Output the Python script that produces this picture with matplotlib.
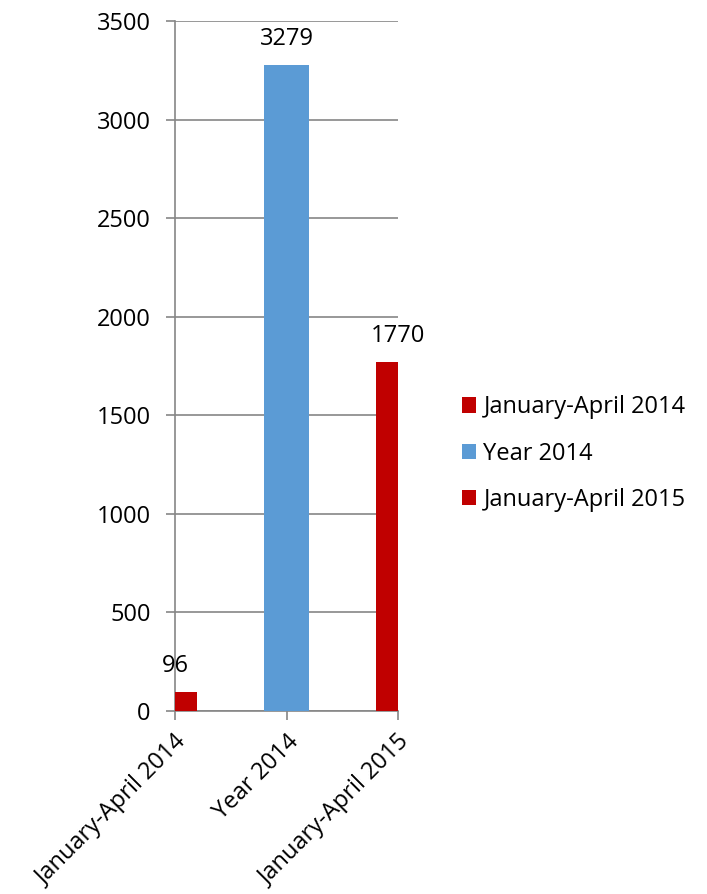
import numpy as np
import matplotlib.pyplot as plt
from matplotlib.patches import Patch

categories = ["January-April 2014", "Year 2014", "January-April 2015"]
values = [96, 3279, 1770]
colors = ["#C00000", "#5B9BD5", "#C00000"]
yticks = [0, 500, 1000, 1500, 2000, 2500, 3000, 3500]

plt.rcParams['font.family'] = ['Open Sans', 'DejaVu Sans']
fs = 17
grey = "#868686"

fig = plt.figure(figsize=(7.07, 8.94), dpi=100)
ax = fig.add_axes([0.2475, 0.2047, 0.3155, 0.7718])

x = np.arange(len(categories))
bars = ax.bar(x, values, width=0.4, color=colors, zorder=3)
for xi, v in zip(x, values):
    ax.annotate(str(v), (xi, v), xytext=(0, 10), textcoords="offset points",
                ha="center", va="bottom", fontsize=fs)

ax.set_xlim(0, 2)
ax.set_ylim(0, 3500)
ax.set_yticks(yticks)
ax.set_yticklabels([str(t) for t in yticks], fontsize=fs)
ax.set_xticks(x)
ax.set_xticklabels(categories, fontsize=fs, rotation=45, ha="right",
                   va="top", rotation_mode="anchor")
ax.tick_params(axis="both", colors=grey, labelcolor="black", length=6.5, width=1.2)
ax.tick_params(axis="x", pad=7)
ax.tick_params(axis="y", pad=11)
ax.yaxis.grid(True, color=grey, linewidth=1.2, zorder=0)
for s in ["top", "right"]:
    ax.spines[s].set_visible(False)
for s in ["left", "bottom"]:
    ax.spines[s].set_color(grey)
    ax.spines[s].set_linewidth(1.2)

handles = [Patch(facecolor=c) for c in colors]
fig.legend(handles, categories, loc="center left", bbox_to_anchor=(0.653, 0.4925),
           frameon=False, fontsize=fs, handlelength=0.62, handleheight=0.62,
           handletextpad=0.3, labelspacing=0.95, borderaxespad=0, borderpad=0)

fig.savefig("out.png", dpi=100)
